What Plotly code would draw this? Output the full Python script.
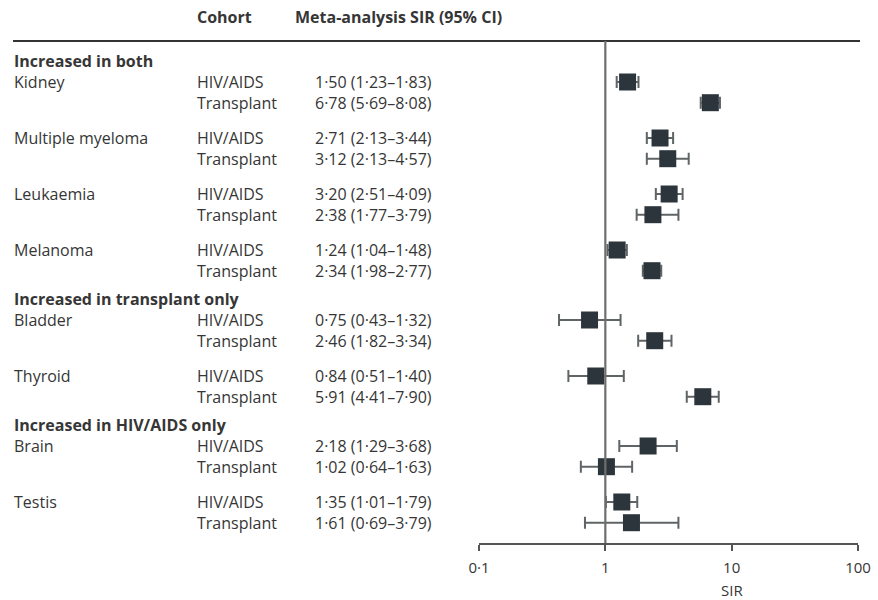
import plotly.graph_objects as go
import math

# ---------------- data ----------------
groups = ["Increased in both", "Increased in both", "Increased in both", "Increased in both",
          "Increased in transplant only", "Increased in transplant only",
          "Increased in HIV/AIDS only", "Increased in HIV/AIDS only"]
cancers = ["Kidney", "Multiple myeloma", "Leukaemia", "Melanoma",
           "Bladder", "Thyroid", "Brain", "Testis"]
cohorts = ["HIV/AIDS", "Transplant"]

hiv_sir = [1.50, 2.71, 3.20, 1.24, 0.75, 0.84, 2.18, 1.35]
hiv_lo = [1.23, 2.13, 2.51, 1.04, 0.43, 0.51, 1.29, 1.01]
hiv_hi = [1.83, 3.44, 4.09, 1.48, 1.32, 1.40, 3.68, 1.79]
tx_sir = [6.78, 3.12, 2.38, 2.34, 2.46, 5.91, 1.02, 1.61]
tx_lo = [5.69, 2.13, 1.77, 1.98, 1.82, 4.41, 0.64, 0.69]
tx_hi = [8.08, 4.57, 3.79, 2.77, 3.34, 7.90, 1.63, 3.79]

tick_vals = [0.1, 1, 10, 100]
tick_text = ["0·1", "1", "10", "100"]

# ---------------- layout helpers ----------------
W, H = 878, 600
AXIS_Y = 543           # plot bottom in px
FIRST = 82
PAIR = 20.7
STEP = 56
GROUP_EXTRA = 14

TXT = "#363636"
FONT = "Open Sans"
FS = 16


def fmt(v):
    return f"{v:.2f}".replace(".", "·")


cancer_y = []
header_y = {}
y = FIRST
prev_group = None
for i, c in enumerate(cancers):
    if prev_group is not None and groups[i] != prev_group:
        y += GROUP_EXTRA
    if groups[i] != prev_group:
        header_y[groups[i]] = y - 21.5
    cancer_y.append(y)
    prev_group = groups[i]
    y += STEP

y_hiv = [v for v in cancer_y]
y_tx = [v + PAIR for v in cancer_y]

fig = go.Figure()

xs = hiv_sir + tx_sir
ys = y_hiv + y_tx
lo = hiv_lo + tx_lo
hi = hiv_hi + tx_hi

fig.add_trace(go.Scatter(
    x=xs, y=ys, mode="markers",
    marker=dict(symbol="square", size=17, color="#2b353b", line=dict(width=0)),
    error_x=dict(type="data", symmetric=False,
                 array=[h - v for h, v in zip(hi, xs)],
                 arrayminus=[v - l for v, l in zip(xs, lo)],
                 color="#5f6466", thickness=2, width=6),
    showlegend=False, hoverinfo="skip",
))

ann = []


def px(xp):
    return xp / W


X_NAME = 12
X_COH = 195
X_SIR = 313

hdr_font = dict(family=FONT, size=FS, color=TXT, weight=700)
ann.append(dict(x=px(X_COH), y=17, text="Cohort", font=hdr_font))
ann.append(dict(x=px(293), y=17, text="Meta-analysis SIR (95% CI)", font=hdr_font))

for g, yy in header_y.items():
    ann.append(dict(x=px(X_NAME), y=yy, text=g,
                    font=dict(family=FONT, size=FS, color=TXT, weight=700)))

for i, c in enumerate(cancers):
    ann.append(dict(x=px(X_NAME), y=y_hiv[i], text=c,
                    font=dict(family=FONT, size=FS, color=TXT)))
    ann.append(dict(x=px(X_COH), y=y_hiv[i], text=cohorts[0],
                    font=dict(family=FONT, size=FS, color=TXT)))
    ann.append(dict(x=px(X_COH), y=y_tx[i], text=cohorts[1],
                    font=dict(family=FONT, size=FS, color=TXT)))
    ann.append(dict(x=px(X_SIR), y=y_hiv[i],
                    text=f"{fmt(hiv_sir[i])} ({fmt(hiv_lo[i])}–{fmt(hiv_hi[i])})",
                    font=dict(family=FONT, size=FS, color=TXT)))
    ann.append(dict(x=px(X_SIR), y=y_tx[i],
                    text=f"{fmt(tx_sir[i])} ({fmt(tx_lo[i])}–{fmt(tx_hi[i])})",
                    font=dict(family=FONT, size=FS, color=TXT)))

for a in ann:
    a.update(xref="paper", yref="y", xanchor="left", yanchor="middle",
             showarrow=False)

# axis title "SIR" centred under 10
ann.append(dict(x=math.log10(10), xref="x", y=0, yref="paper", yshift=-47,
                text="SIR", showarrow=False, xanchor="center", yanchor="middle",
                font=dict(family=FONT, size=FS - 1, color=TXT)))

shapes = [
    dict(type="line", xref="paper", yref="y", x0=px(13), x1=px(860), y0=41, y1=41,
         line=dict(color="#333333", width=2)),
    dict(type="line", xref="x", yref="y", x0=1, x1=1, y0=41, y1=AXIS_Y,
         line=dict(color="#6e6e6e", width=2.2)),
]

fig.update_layout(
    width=W, height=H, autosize=False,
    margin=dict(l=0, r=0, t=0, b=H - AXIS_Y, pad=0, autoexpand=False),
    paper_bgcolor="white", plot_bgcolor="white",
    annotations=ann, shapes=shapes, showlegend=False,
    xaxis=dict(type="log", range=[-1, 2], domain=[479 / W, 858 / W],
               tickvals=tick_vals, ticktext=tick_text, automargin=False,
               showline=True, linecolor="#555555", linewidth=2,
               ticks="outside", ticklen=6, tickwidth=2, tickcolor="#555555",
               ticklabelstandoff=4,
               showgrid=False, zeroline=False,
               tickfont=dict(family=FONT, size=FS - 1, color=TXT)),
    yaxis=dict(range=[AXIS_Y, 0], domain=[0, 1], visible=False, automargin=False,
               showgrid=False, zeroline=False),
    font=dict(family=FONT, color=TXT),
)

fig.write_html("out.html")
